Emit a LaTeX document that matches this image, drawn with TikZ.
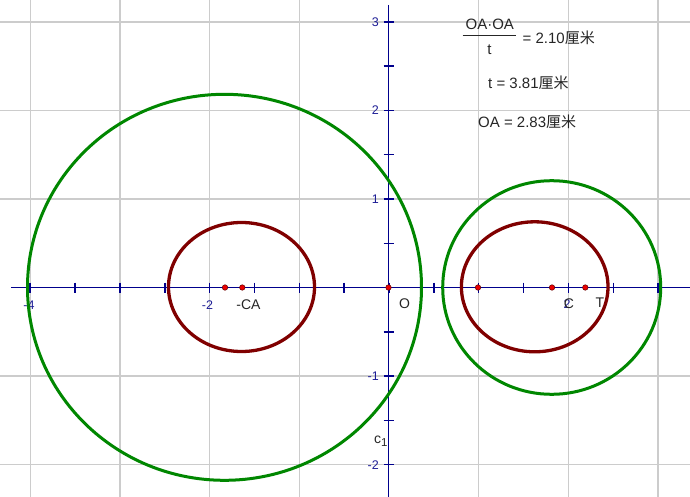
\documentclass[tikz,border=0pt]{standalone}
\usepackage{fontspec}
\setmainfont{Liberation Sans}
\newfontfamily\cjk{Noto Sans CJK SC}
\definecolor{gridgray}{RGB}{204,204,204}
\definecolor{axisblue}{RGB}{0,0,140}
\definecolor{lblblue}{RGB}{30,30,150}
\definecolor{curvegreen}{RGB}{0,135,0}
\definecolor{curvered}{RGB}{128,0,0}
\definecolor{dotred}{RGB}{235,0,0}
\begin{document}
\begin{tikzpicture}[x=1pt,y=-1pt,
  gridline/.style={gridgray,line width=1.4pt},
  axisline/.style={axisblue,line width=1.6pt},
  tickline/.style={axisblue,line width=1.5pt},
  greencurve/.style={curvegreen,line width=3pt},
  redcurve/.style={curvered,line width=3.3pt},
  ptdot/.style={circle,fill=dotred,draw=curvered!70!black,line width=0.5pt,inner sep=0pt,minimum size=5.5pt},
  numlbl/.style={text=lblblue,font=\fontsize{12.5}{12.5}\selectfont,inner sep=0pt},
  ptlbl/.style={text=black!85,font=\fontsize{14}{14}\selectfont,inner sep=0pt},
  measure/.style={text=black!85,font=\fontsize{15}{15}\selectfont,inner sep=0pt,anchor=west}]
\useasboundingbox (0,0) rectangle (690,497);
\fill[white] (0,0) rectangle (690,497);
% grid
\foreach \k in {-4,-3,-2,-1,1,2,3}
  \draw[gridline] ({389+89.7*\k},0) -- ({389+89.7*\k},497);
\foreach \k in {-2,-1,1,2,3}
  \draw[gridline] (0,{287.5-88.5*\k}) -- (690,{287.5-88.5*\k});
% axes
\draw[axisline] (11,287.5) -- (690,287.5);
\draw[axisline] (388.5,5) -- (388.5,497);
\foreach \k in {-8,...,6}
  \draw[tickline] ({389+44.85*\k},282.5) -- ({389+44.85*\k},292.5);
\foreach \k in {-4,...,6}
  \draw[tickline] (383.5,{287.5-44.25*\k}) -- (393.5,{287.5-44.25*\k});
% axis numbers
\node[numlbl] (xm4) at (29,305) {-4};
\node[numlbl] (xm2) at (207.5,305) {-2};
\node[numlbl] (xp2) at (567,304) {2};
\node[numlbl,anchor=east] (y3) at (379,22) {3};
\node[numlbl,anchor=east] (y2) at (379,110) {2};
\node[numlbl,anchor=east] (y1) at (379,199) {1};
\node[numlbl,anchor=east] (ym1) at (379,376.5) {-1};
\node[numlbl,anchor=east] (ym2) at (379,465) {-2};
% curves
\draw[greencurve] (224.5,287.3) ellipse (197 and 193);
\draw[greencurve] (551.7,287.5) ellipse (109 and 106.8);
\draw[redcurve] (241.5,287) ellipse (73 and 64.5);
\draw[redcurve] (534.7,286.8) ellipse (73.3 and 65);
% points
\node[ptdot] (P1) at (225,287.5) {};
\node[ptdot] (CA) at (242.3,287.5) {};
\node[ptdot] (O) at (388.5,287.5) {};
\node[ptdot] (A) at (478,287.5) {};
\node[ptdot] (C) at (552,287.5) {};
\node[ptdot] (T) at (585.3,287.5) {};
% point labels
\node[ptlbl] (lCA) at (248.5,305) {-CA};
\node[ptlbl] (lO) at (404.5,304) {O};
\node[ptlbl] (lC) at (569,303.5) {C};
\node[ptlbl] (lT) at (600,303) {T};
\node[ptlbl,anchor=west] (lc1) at (374,441) {c\raisebox{-0.35ex}{\fontsize{11.5}{11.5}\selectfont 1}};
% measurements
\node[text=black!85,font=\fontsize{15}{15}\selectfont,inner sep=0pt] (num) at (489.8,24) {OA·OA};
\draw[black!85,line width=0.9pt] (462.7,35.7) -- (516,35.7);
\node[text=black!85,font=\fontsize{15}{15}\selectfont,inner sep=0pt] (den) at (489.5,50) {t};
\node[measure] (m1) at (522.5,38) {= 2.10{\cjk 厘米}};
\node[measure] (m2) at (488,83) {t = 3.81{\cjk 厘米}};
\node[measure] (m3) at (478,122) {OA = 2.83{\cjk 厘米}};
\end{tikzpicture}
\end{document}
